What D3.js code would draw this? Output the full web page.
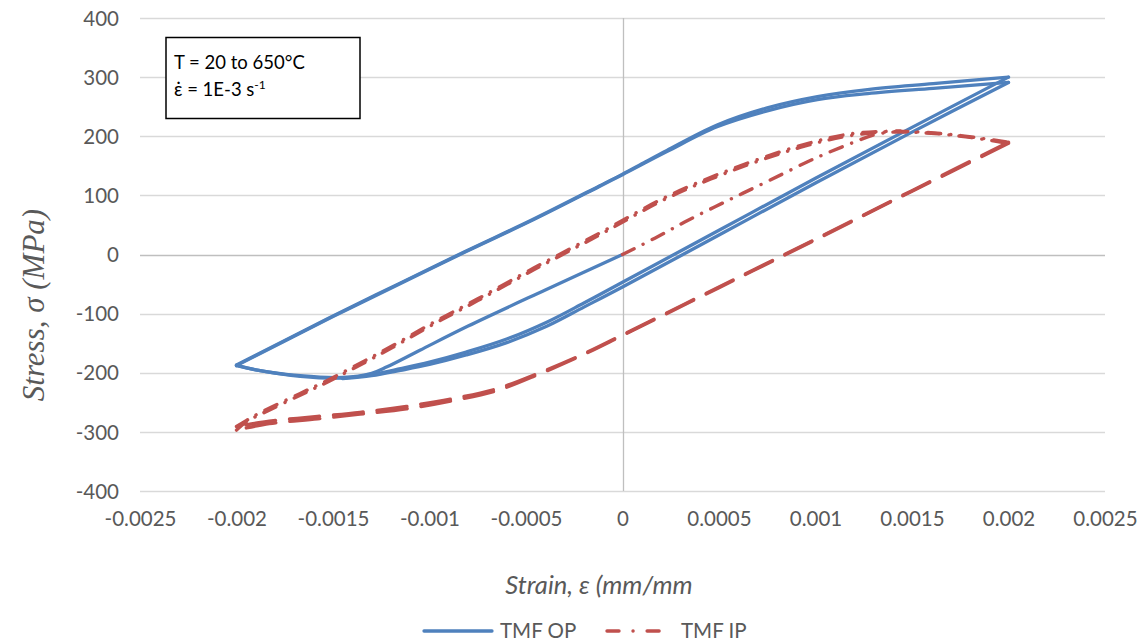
<!DOCTYPE html>
<html>
<head>
<meta charset="utf-8">
<script src="https://cdn.jsdelivr.net/npm/d3@7"></script>
<style>
  html, body { margin: 0; padding: 0; background: #fff; }
  svg { display: block; }
</style>
</head>
<body>
<svg id="chart" width="1146" height="644"></svg>
<script>
// ---------------- DATA ----------------
const xTickValues = [-0.0025, -0.002, -0.0015, -0.001, -0.0005, 0, 0.0005, 0.001, 0.0015, 0.002, 0.0025];
const xTickLabels = ["-0.0025", "-0.002", "-0.0015", "-0.001", "-0.0005", "0", "0.0005", "0.001", "0.0015", "0.002", "0.0025"];
const yTickValues = [-400, -300, -200, -100, 0, 100, 200, 300, 400];
const yTickLabels = ["-400", "-300", "-200", "-100", "0", "100", "200", "300", "400"];

const seriesNames = ["TMF OP", "TMF IP"];

// TMF OP (out-of-phase) - strain / stress (MPa)
const opStrain = [
  0, -0.0004, -0.0008, -0.00105, -0.00122, -0.0013, -0.00145, -0.00167, -0.0019, -0.002,
  -0.00188, -0.00176, -0.0015, -0.00115, -0.00081, -0.00046, -0.00012, 0, 0.00012, 0.00023, 0.00049, 0.00075, 0.00101, 0.00127, 0.00161, 0.002,
  0.0015, 0.001, 0.0005, 0, -0.0002, -0.00039, -0.0006, -0.00081, -0.001, -0.00115, -0.0013, -0.00145, -0.00167, -0.0019, -0.002,
  -0.00188, -0.00176, -0.0015, -0.00115, -0.00081, -0.00046, -0.00012, 0, 0.00023, 0.00049, 0.00075, 0.00101, 0.00127, 0.00161, 0.002,
  0.0015, 0.001, 0.0005, 0, -0.0002, -0.00039, -0.0006, -0.00081, -0.001, -0.00115, -0.0013, -0.00145
];
const opStress = [
  0, -60, -121, -162, -190, -201, -208, -205, -195, -187,
  -167, -147, -104, -48, 6, 60, 116, 136, 157, 176, 219, 248, 267, 279, 289, 300,
  215, 129, 41, -47, -82, -114, -143, -165, -182, -193, -203, -209, -206, -195, -188,
  -168, -148, -105, -49, 5, 59, 115, 135, 174, 216, 243, 262, 272, 281, 291,
  207, 121, 33, -55, -89, -121, -149, -170, -186, -196, -205, -210
];

// TMF IP (in-phase) - strain / stress (MPa)
const ipStrain = [
  0, 0.00017, 0.00034, 0.00055, 0.00076, 0.001, 0.0012, 0.0013, 0.0014, 0.0016, 0.0018, 0.002,
  0.0015, 0.001, 0.0005, 0, -0.00022, -0.00043, -0.00065, -0.00088, -0.00112, -0.00136, -0.00158, -0.00183, -0.002,
  -0.00195, -0.00188, -0.00167, -0.00153, -0.00132, -0.00119, -0.00098, -0.00075, -0.00046, -0.00012, 0.00023, 0.00057, 0.00092, 0.00118, 0.00144, 0.0017, 0.002,
  0.0015, 0.001, 0.0005, 0, -0.00022, -0.00043, -0.00065, -0.00088, -0.00112, -0.00136, -0.00158, -0.00183, -0.002,
  -0.00195, -0.00188, -0.00167, -0.00153, -0.00132, -0.00119, -0.00098, -0.00075, -0.00046, -0.00012, 0.00023, 0.00057, 0.00092, 0.00118, 0.00144
];
const ipStress = [
  0, 28, 58, 92, 125, 163, 190, 202, 207, 205, 198, 188,
  107, 25, -56, -137, -172, -202, -230, -247, -261, -270, -278, -286, -297,
  -283, -271, -238, -216, -180, -157, -118, -78, -26, 33, 95, 142, 181, 201, 208, 203, 190,
  108, 26, -55, -136, -171, -200, -227, -244, -257, -267, -274, -282, -291,
  -281, -268, -235, -213, -177, -154, -115, -75, -23, 36, 98, 145, 184, 204, 209
];

const annotationLines = ["T = 20 to 650°C"];

// ---------------- DRAW ----------------
const svg = d3.select("#chart");
svg.append("rect").attr("width", 1146).attr("height", 644).attr("fill", "#fff");

const x = d3.scaleLinear().domain([-0.0025, 0.0025]).range([140, 1105]);
const y = d3.scaleLinear().domain([-400, 400]).range([491, 18]);

const tickFont = "Lato, 'Liberation Sans', sans-serif";
const textColor = "#595959";

// horizontal gridlines
svg.append("g").selectAll("line").data(yTickValues).join("line")
  .attr("x1", x(-0.0025)).attr("x2", x(0.0025))
  .attr("y1", d => Math.round(y(d)) + 0.5).attr("y2", d => Math.round(y(d)) + 0.5)
  .attr("stroke", d => d === 0 ? "#bfbfbf" : "#d9d9d9")
  .attr("stroke-width", 1.3);

// vertical axis line at x = 0
svg.append("line")
  .attr("x1", Math.round(x(0)) + 0.5).attr("x2", Math.round(x(0)) + 0.5)
  .attr("y1", y(400)).attr("y2", y(-400))
  .attr("stroke", "#bfbfbf").attr("stroke-width", 1.3);

// Y axis tick labels (via d3 axis)
const yAxis = d3.axisLeft(y).tickValues(yTickValues)
  .tickFormat((d, i) => yTickLabels[i]).tickSize(0).tickPadding(0);
const gy = svg.append("g").attr("transform", "translate(119,0)").call(yAxis);
gy.select(".domain").remove();
gy.selectAll("text").attr("font-family", tickFont).attr("font-size", "20.5px")
  .attr("fill", textColor).attr("dy", "0.35em");

// X axis tick labels
const xAxis = d3.axisBottom(x).tickValues(xTickValues)
  .tickFormat((d, i) => xTickLabels[i]).tickSize(0).tickPadding(0);
const gx = svg.append("g").attr("transform", "translate(0,511)").call(xAxis);
gx.select(".domain").remove();
gx.selectAll("text").attr("font-family", tickFont).attr("font-size", "20.5px")
  .attr("fill", textColor).attr("dy", "0.71em");

// split a loop series into branches at each strain reversal
function branches(strain, stress) {
  const out = [];
  let cur = [[strain[0], stress[0]]];
  let dir = 0;
  for (let i = 1; i < strain.length; i++) {
    const d = Math.sign(strain[i] - strain[i - 1]);
    if (dir !== 0 && d !== 0 && d !== dir) {
      out.push({ dir: dir, pts: cur });
      cur = [[strain[i - 1], stress[i - 1]]];
    }
    if (d !== 0) dir = d;
    cur.push([strain[i], stress[i]]);
  }
  out.push({ dir: dir, pts: cur });
  return out;
}

const line = d3.line()
  .x(d => x(d[0])).y(d => y(d[1]))
  .curve(d3.curveCatmullRom.alpha(0.5));

const opBranches = branches(opStrain, opStress);
const ipBranches = branches(ipStrain, ipStress);

svg.append("g").selectAll("path").data(opBranches).join("path")
  .attr("d", d => line(d.pts))
  .attr("fill", "none").attr("stroke", "#4f81bd").attr("stroke-width", 3.3)
  .attr("stroke-linejoin", "round").attr("stroke-linecap", "round");

svg.append("g").selectAll("path").data(ipBranches).join("path")
  .attr("d", d => line(d.pts))
  .attr("fill", "none").attr("stroke", "#c0504d").attr("stroke-width", 3.4)
  .attr("stroke-linejoin", "round").attr("stroke-linecap", "round")
  .attr("stroke-dasharray", d => d.dir > 0 ? "13,10,0.1,10" : "30,14");

// annotation box
svg.append("rect").attr("x", 166).attr("y", 37.5).attr("width", 194).attr("height", 81)
  .attr("fill", "#fff").attr("stroke", "#000").attr("stroke-width", 1.5);
svg.append("text").attr("x", 174).attr("y", 69)
  .attr("font-family", tickFont).attr("font-size", "18.5px").attr("fill", "#000")
  .text(annotationLines[0]);
const t2 = svg.append("text").attr("x", 174).attr("y", 96)
  .attr("font-family", tickFont).attr("font-size", "18.5px").attr("fill", "#000");
t2.append("tspan").text("ε\u0307 = 1E-3 s");
t2.append("tspan").attr("dy", -7).attr("font-size", "12px").text("-1");

// axis titles
svg.append("text")
  .attr("transform", "translate(44,305) rotate(-90)")
  .attr("text-anchor", "middle")
  .attr("font-family", "'Liberation Serif', 'Times New Roman', serif")
  .attr("font-style", "italic").attr("font-size", "31px").attr("fill", textColor)
  .text("Stress, σ (MPa)");

svg.append("text")
  .attr("x", 599).attr("y", 594).attr("text-anchor", "middle")
  .attr("font-family", tickFont).attr("font-style", "italic")
  .attr("font-size", "25.5px").attr("fill", textColor)
  .text("Strain, ε (mm/mm");

// legend
const legend = svg.append("g");
legend.append("line").attr("x1", 424).attr("x2", 492).attr("y1", 631).attr("y2", 631)
  .attr("stroke", "#4f81bd").attr("stroke-width", 3.3).attr("stroke-linecap", "round");
legend.append("text").attr("x", 500).attr("y", 638)
  .attr("font-family", tickFont).attr("font-size", "20.5px").attr("fill", textColor)
  .text(seriesNames[0]);
legend.append("line").attr("x1", 607).attr("x2", 663).attr("y1", 631).attr("y2", 631)
  .attr("stroke", "#c0504d").attr("stroke-width", 3.4).attr("stroke-linecap", "round")
  .attr("stroke-dasharray", "12,14,0.1,14");
legend.append("text").attr("x", 681).attr("y", 638)
  .attr("font-family", tickFont).attr("font-size", "20.5px").attr("fill", textColor)
  .text(seriesNames[1]);
</script>
</body>
</html>
